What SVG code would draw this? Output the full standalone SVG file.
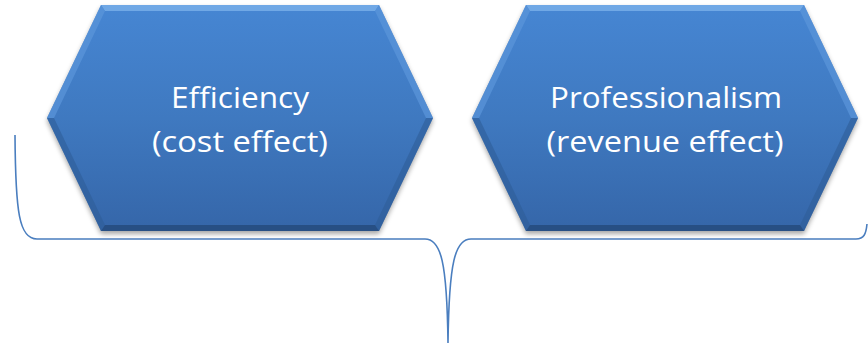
<svg xmlns="http://www.w3.org/2000/svg" xmlns:xlink="http://www.w3.org/1999/xlink" width="868" height="346" viewBox="0 0 868 346">
  <defs>
    <linearGradient id="hexFill" x1="0" y1="0" x2="0" y2="1">
      <stop offset="0" stop-color="#4686d3"/>
      <stop offset="0.5" stop-color="#3f79c0"/>
      <stop offset="1" stop-color="#3566a9"/>
    </linearGradient>
    <filter id="shadow" x="-10%" y="-10%" width="120%" height="130%">
      <feGaussianBlur stdDeviation="2.5"/>
    </filter>
    <g id="hexShape">
      <polygon points="101,8 379,8 433,121 379,234 101,234 47,121" fill="#000" opacity="0.35" filter="url(#shadow)"/>
      <polygon points="101,5 379,5 433,118 379,231 101,231 47,118" fill="url(#hexFill)"/>
      <!-- bevel facets -->
      <polygon points="101,5 379,5 375,11 105,11" fill="#78aee9" opacity="0.85"/>
      <polygon points="379,5 433,118 426,118 375,11" fill="#5b95da" opacity="0.7"/>
      <polygon points="101,5 105,11 54,118 47,118" fill="#5b95da" opacity="0.7"/>
      <polygon points="47,118 54,118 105,225 101,231" fill="#2f5d98" opacity="0.6"/>
      <polygon points="433,118 379,231 375,225 426,118" fill="#2f5d98" opacity="0.6"/>
      <polygon points="101,231 379,231 375,225 105,225" fill="#264d80" opacity="0.9"/>
    </g>
    <style>
      .lbl { font-family: "Open Sans", "Liberation Sans", sans-serif; font-size: 29px; fill: #ffffff; text-anchor: middle; }
      .brace { fill: none; stroke: #4a7ebf; stroke-width: 1.6; }
    </style>
  </defs>

  <g id="connectors">
    <path class="brace" d="M15,135 C15.5,212 19,239 37,239 L425,239 C441,239 447,262 448,343 C449,262 455,239 471,239 L856,239 C864,239 866,234 867,224"/>
  </g>

  <g id="node-efficiency">
    <use xlink:href="#hexShape"/>
    <text class="lbl" x="240" y="108" textLength="138" lengthAdjust="spacingAndGlyphs">Efficiency</text>
    <text class="lbl" x="240" y="152" textLength="176" lengthAdjust="spacingAndGlyphs">(cost effect)</text>
  </g>

  <g id="node-professionalism">
    <use xlink:href="#hexShape" transform="translate(425,0)"/>
    <text class="lbl" x="666" y="108" textLength="232" lengthAdjust="spacingAndGlyphs">Professionalism</text>
    <text class="lbl" x="665" y="152" textLength="237" lengthAdjust="spacingAndGlyphs">(revenue effect)</text>
  </g>
</svg>
